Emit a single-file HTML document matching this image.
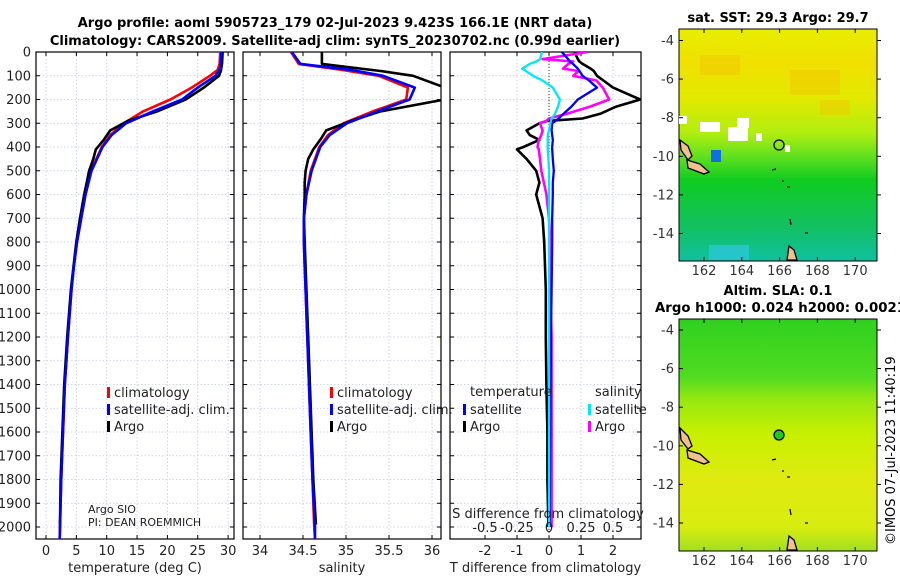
<!DOCTYPE html>
<html><head><meta charset="utf-8">
<style>
html,body{margin:0;padding:0;background:#fff;}
svg{display:block;font-family:"DejaVu Sans","Liberation Sans",sans-serif;}
</style></head>
<body>
<svg id="c" width="900" height="580" viewBox="0 0 900 580" xmlns="http://www.w3.org/2000/svg">
<defs>
<linearGradient id="sstg" x1="0" y1="0" x2="0" y2="1">
<stop offset="0" stop-color="#e8ee00"/><stop offset="0.15" stop-color="#f0e000"/><stop offset="0.3" stop-color="#e2ea00"/>
<stop offset="0.45" stop-color="#b0ee10"/><stop offset="0.55" stop-color="#60e020"/><stop offset="0.65" stop-color="#10cc20"/>
<stop offset="0.85" stop-color="#12c060"/><stop offset="1" stop-color="#10c0a0"/></linearGradient>
<linearGradient id="slag" x1="0" y1="0" x2="0" y2="1">
<stop offset="0" stop-color="#30d020"/><stop offset="0.25" stop-color="#50dc20"/><stop offset="0.35" stop-color="#98e810"/>
<stop offset="0.5" stop-color="#c8f000"/><stop offset="0.7" stop-color="#e0ea10"/><stop offset="0.9" stop-color="#d8ec10"/><stop offset="1" stop-color="#a0e020"/></linearGradient>
<clipPath id="cp1"><rect x="36" y="52" width="198" height="487"/></clipPath>
<clipPath id="cp2"><rect x="243" y="52" width="198" height="487"/></clipPath>
<clipPath id="cp3"><rect x="450" y="52" width="191" height="487"/></clipPath>
</defs>
<text x="335" y="27" text-anchor="middle" font-size="13" font-weight="bold">Argo profile: aoml 5905723_179 02-Jul-2023 9.423S 166.1E (NRT data)</text>
<text x="335" y="45" text-anchor="middle" font-size="13" font-weight="bold">Climatology: CARS2009. Satellite-adj clim: synTS_20230702.nc (0.99d earlier)</text>
<g id="maps">
<text x="778" y="22" text-anchor="middle" font-size="13" font-weight="bold">sat. SST: 29.3 Argo: 29.7</text>
<rect x="679" y="29" width="198" height="232" fill="url(#sstg)" stroke="#000"/>
<g fill="#f2c800" opacity="0.5"><rect x="700" y="55" width="40" height="20"/><rect x="790" y="70" width="50" height="25"/><rect x="820" y="100" width="30" height="15"/></g>
<g fill="#fff"><rect x="679" y="116" width="8" height="8"/><rect x="700" y="122" width="20" height="10"/><rect x="728" y="127" width="20" height="14"/><rect x="737" y="118" width="12" height="10"/><rect x="756" y="133" width="6" height="8"/><rect x="785" y="145" width="5" height="7"/></g>
<rect x="711" y="150" width="10" height="12" fill="#1070e0"/>
<rect x="709" y="245" width="40" height="15" fill="#30c8e0" opacity="0.7"/>
<circle cx="779" cy="145" r="5" fill="none" stroke="#000" stroke-width="1.3"/>
<text x="778" y="295" text-anchor="middle" font-size="13" font-weight="bold">Altim. SLA: 0.1</text>
<text x="655" y="312" font-size="13.3" font-weight="bold">Argo h1000: 0.024 h2000: 0.0021</text>
<rect x="679" y="319" width="198" height="232" fill="url(#slag)" stroke="#000"/>
<circle cx="779" cy="435" r="5" fill="#20c820" stroke="#000" stroke-width="1.3"/>
<g fill="#f0c090" stroke="#000" stroke-width="1.3">
<path d="M680 140 L688 146 L692 156 L688 160 L681 150 Z"/><path d="M687 160 L700 164 L709 172 L704 174 L688 168 Z"/>
<path d="M680 428 L688 436 L692 446 L688 449 L681 440 Z"/><path d="M687 450 L700 454 L709 462 L704 464 L688 458 Z"/>
<path d="M787 260 L789 246 L794 250 L797 260 Z"/><path d="M787 550 L789 536 L794 540 L797 550 Z"/>
</g>
<g stroke="#000" fill="none" stroke-width="1.2"><path d="M772 170 l4 -1 M782 181 l2 0 M787 187 l3 0 M790 219 l1 6 M805 233 l3 0 M805 523 l3 0 M772 460 l4 -1 M782 471 l2 0 M787 477 l3 0 M790 509 l1 6"/></g>
<text transform="translate(895,545) rotate(-90)" font-size="13">©IMOS 07-Jul-2023 11:40:19</text>
</g>
<g id="g"></g>
<script>
// ---------- data ----------
const depthT = [0,50,75,100,150,200,250,300,350,400,500,600,700,800,900,1000,1200,1400,1600,1800,2000,2050];
const tempClim = [28.7,28.6,28.3,27.0,24.0,20.5,16.0,12.8,10.6,9.2,7.4,6.5,5.8,5.1,4.6,4.2,3.6,3.1,2.8,2.5,2.3,2.25];
const tempSat = [28.9,28.8,28.6,27.9,25.0,22.4,17.6,13.2,10.8,9.3,7.5,6.5,5.8,5.1,4.6,4.2,3.6,3.1,2.8,2.5,2.3,2.25];
const depthA = [0,50,80,100,150,200,250,290,330,370,410,450,500,550,600,700,800,1000,1200,1400,1600,1800,1990];
const tempArgo = [29.1,29.0,28.8,28.5,26.0,23.0,18.3,13.5,10.6,9.5,8.2,7.8,7.1,6.7,6.3,5.6,5.0,4.1,3.5,3.0,2.7,2.4,2.3];
const salClim = [34.36,34.45,34.95,35.38,35.72,35.70,35.31,34.97,34.79,34.69,34.59,34.54,34.51,34.51,34.52,34.53,34.55,34.57,34.59,34.61,34.63,34.64];
const salSat = [34.37,34.47,35.05,35.43,35.80,35.74,35.36,35.01,34.81,34.70,34.60,34.54,34.51,34.51,34.52,34.53,34.55,34.57,34.59,34.61,34.64,34.64];
const salArgo = [34.72,34.72,35.40,35.78,36.15,36.15,35.40,35.06,34.77,34.70,34.62,34.56,34.53,34.52,34.52,34.51,34.52,34.54,34.56,34.58,34.60,34.62,34.65];
const depthD = [0,30,40,50,70,80,100,120,150,200,230,260,280,290,300,330,350,370,400,410,450,500,550,600,700,800,1000,1200,1400,1600,1800,2000];
const tDiffArgo = [0.8,0.9,0.95,1.05,1.3,1.4,1.5,1.7,2.0,2.85,2.1,1.6,1.05,-0.05,-0.3,-0.7,-0.6,-0.3,-0.8,-1.0,-0.7,-0.4,-0.3,-0.4,-0.2,-0.15,-0.1,-0.1,-0.08,-0.05,-0.05,-0.02];
const tDiffSat = [0.4,0.6,0.65,0.75,0.9,0.95,1.05,1.25,1.5,0.9,0.7,0.45,0.3,0.2,0.1,0.08,0.1,0.12,0.1,0.1,0.12,0.15,0.12,0.12,0.1,0.1,0.08,0.06,0.05,0.04,0.03,0.02];
const sDiffSat = [-0.055,-0.07,-0.1,-0.15,-0.21,-0.18,-0.125,-0.05,0.03,0.085,0.07,0.047,0.02,0.015,0.01,0.0,-0.01,-0.01,-0.01,-0.01,-0.005,0,0,0,0,0,0,0,0,0,0,0];
const sDiffArgo = [0.3,-0.05,0.19,0.15,0.11,0.23,0.19,0.37,0.42,0.47,0.32,0.14,0.0,-0.02,-0.07,-0.05,-0.06,-0.08,-0.09,-0.08,-0.07,-0.06,-0.04,-0.02,0,0.01,0.01,0.02,0.02,0.02,0.02,0.02];
const depthTicks = [0,100,200,300,400,500,600,700,800,900,1000,1100,1200,1300,1400,1500,1600,1700,1800,1900,2000];
const tempTicks = [0,5,10,15,20,25,30];
const salTicks = [34,34.5,35,35.5,36];
const tdTicks = [-2,-1,0,1,2];
const sdTicks = ["-0.5","-0.25","0","0.25","0.5"];
const sdTickVals = [-0.5,-0.25,0,0.25,0.5];
// ---------- drawing ----------
const NS="http://www.w3.org/2000/svg", G=document.getElementById('g');
function el(t,a,p){const e=document.createElementNS(NS,t);for(const k in a)e.setAttribute(k,a[k]);(p||G).appendChild(e);return e;}
const yD = d => 52 + d*0.2375;
const P = [
 {x0:36,w:198,sx:v=>46+v*6.07,ticks:tempTicks,lab:"temperature (deg C)",n:"temperature-panel",cp:"cp1"},
 {x0:243,w:198,sx:v=>303+(v-34.5)*86,ticks:salTicks,lab:"salinity",n:"salinity-panel",cp:"cp2"},
 {x0:450,w:191,sx:v=>549+v*32,ticks:tdTicks,lab:"T difference from climatology",n:"difference-panel",cp:"cp3"}];
const sxS = v => 549+v*128;
P.forEach((p,i)=>{
 const grp=el('g',{});
 
 
 const gs={stroke:"#c4cbe4","stroke-width":0.8,"stroke-dasharray":"1.5,2"};
 depthTicks.forEach(d=>{el('line',Object.assign({x1:p.x0,x2:p.x0+p.w,y1:yD(d),y2:yD(d)},gs),grp);
   el('line',{x1:p.x0,x2:p.x0+4,y1:yD(d),y2:yD(d),stroke:"#000"},grp);el('line',{x1:p.x0+p.w-4,x2:p.x0+p.w,y1:yD(d),y2:yD(d),stroke:"#000"},grp);
   if(i==0){const t=el('text',{x:31,y:yD(d)+4.5,"text-anchor":"end","font-size":13,fill:"#222"},grp);t.textContent=d;}});
 p.ticks.forEach(v=>{const x=p.sx(v);el('line',Object.assign({x1:x,x2:x,y1:52,y2:539},gs),grp);
   el('line',{x1:x,x2:x,y1:539,y2:535,stroke:"#000"},grp);el('line',{x1:x,x2:x,y1:52,y2:56,stroke:"#000"},grp);
   const t=el('text',{x:x,y:555,"text-anchor":"middle","font-size":13,fill:"#222"},grp);t.textContent=v;});
 el('rect',{x:p.x0,y:52,width:p.w,height:487,fill:"none",stroke:"#000","stroke-width":1.2},grp);
 const t=el('text',{x:p.x0+p.w/2,y:572,"text-anchor":"middle","font-size":13,fill:"#222"},grp);t.textContent=p.lab;
});
el('line',{x1:549,x2:549,y1:52,y2:539,stroke:"#333","stroke-dasharray":"1,2"});
function line(dep,vals,sx,col,name,cp,w){
 const pts=dep.map((d,i)=>sx(vals[i]).toFixed(1)+","+yD(d).toFixed(1)).join(" ");
 const e=el('polyline',{points:pts,fill:"none",stroke:col,"stroke-width":w||2.6,"stroke-linejoin":"round","clip-path":"url(#"+cp+")"});
 
 
}
line(depthT,tempClim,P[0].sx,"#f00","temp-climatology-line","cp1");
line(depthA,tempArgo,P[0].sx,"#000","temp-argo-line","cp1");
line(depthT,tempSat,P[0].sx,"#0000ff","temp-satellite-line","cp1");
line(depthT,salClim,P[1].sx,"#f00","sal-climatology-line","cp2");
line(depthA,salArgo,P[1].sx,"#000","sal-argo-line","cp2");
line(depthT,salSat,P[1].sx,"#0000ff","sal-satellite-line","cp2");
line(depthD,tDiffArgo,P[2].sx,"#000","tdiff-argo-line","cp3");
line(depthD,sDiffArgo,sxS,"#ff00ff","sdiff-argo-line","cp3");
line(depthD,tDiffSat,P[2].sx,"#0000ff","tdiff-satellite-line","cp3",2.3);
line(depthD,sDiffSat,sxS,"#00e8f0","sdiff-satellite-line","cp3",2.3);
sdTickVals.forEach((v,i)=>{const t=el('text',{x:sxS(v),y:532,"text-anchor":"middle","font-size":13,fill:"#222"});t.textContent=sdTicks[i];});
const st=el('text',{x:548,y:518,"text-anchor":"middle","font-size":13,fill:"#222"});st.textContent="S difference from climatology";
function leg(x,y,col,txt,name){const g=el('g',{});
 el('rect',{x:x,y:y-9,width:3,height:11,fill:col},g);const t=el('text',{x:x+7,y:y+1,"font-size":13,fill:"#222"},g);t.textContent=txt;}
[[107,"temperature-legend"],[330,"salinity-legend"]].forEach(([x,n])=>{
 leg(x,396,"#f00","climatology",n+"-climatology");leg(x,413,"#0000ff","satellite-adj. clim.",n+"-satellite");leg(x,430,"#000","Argo",n+"-argo");});
let t=el('text',{x:470,y:396,"font-size":13,fill:"#222"});t.textContent="temperature";
t=el('text',{x:595,y:396,"font-size":13,fill:"#222"});t.textContent="salinity";
leg(463,413,"#0000ff","satellite","tdiff-legend-satellite");leg(463,430,"#000","Argo","tdiff-legend-argo");
leg(588,413,"#00e8f0","satellite","sdiff-legend-satellite");leg(588,430,"#ff00ff","Argo","sdiff-legend-argo");
t=el('text',{x:88,y:513,"font-size":11,fill:"#222"});t.textContent="Argo SIO";
t=el('text',{x:88,y:526,"font-size":11,fill:"#222"});t.textContent="PI: DEAN ROEMMICH";
// map axes
const lonTicks=[162,164,166,168,170], latTicks=[-4,-6,-8,-10,-12,-14];
[[29,40.5,275],[319,330,565]].forEach(([top,y4,ly])=>{
 lonTicks.forEach(l=>{const x=704+(l-162)*18.9;el('line',{x1:x,x2:x,y1:top+232,y2:top+228,stroke:"#000"});el('line',{x1:x,x2:x,y1:top,y2:top+4,stroke:"#000"});
  const tt=el('text',{x:x,y:ly,"text-anchor":"middle","font-size":13,fill:"#333"});tt.textContent=l;});
 latTicks.forEach(l=>{const y=y4+(-4-l)*19.3;el('line',{x1:679,x2:683,y1:y,y2:y,stroke:"#000"});el('line',{x1:877,x2:881,y1:y,y2:y,stroke:"#000"});
  const tt=el('text',{x:674,y:y+4.5,"text-anchor":"end","font-size":13,fill:"#333"});tt.textContent=l;});
});
</script>
</svg>
</body></html>
